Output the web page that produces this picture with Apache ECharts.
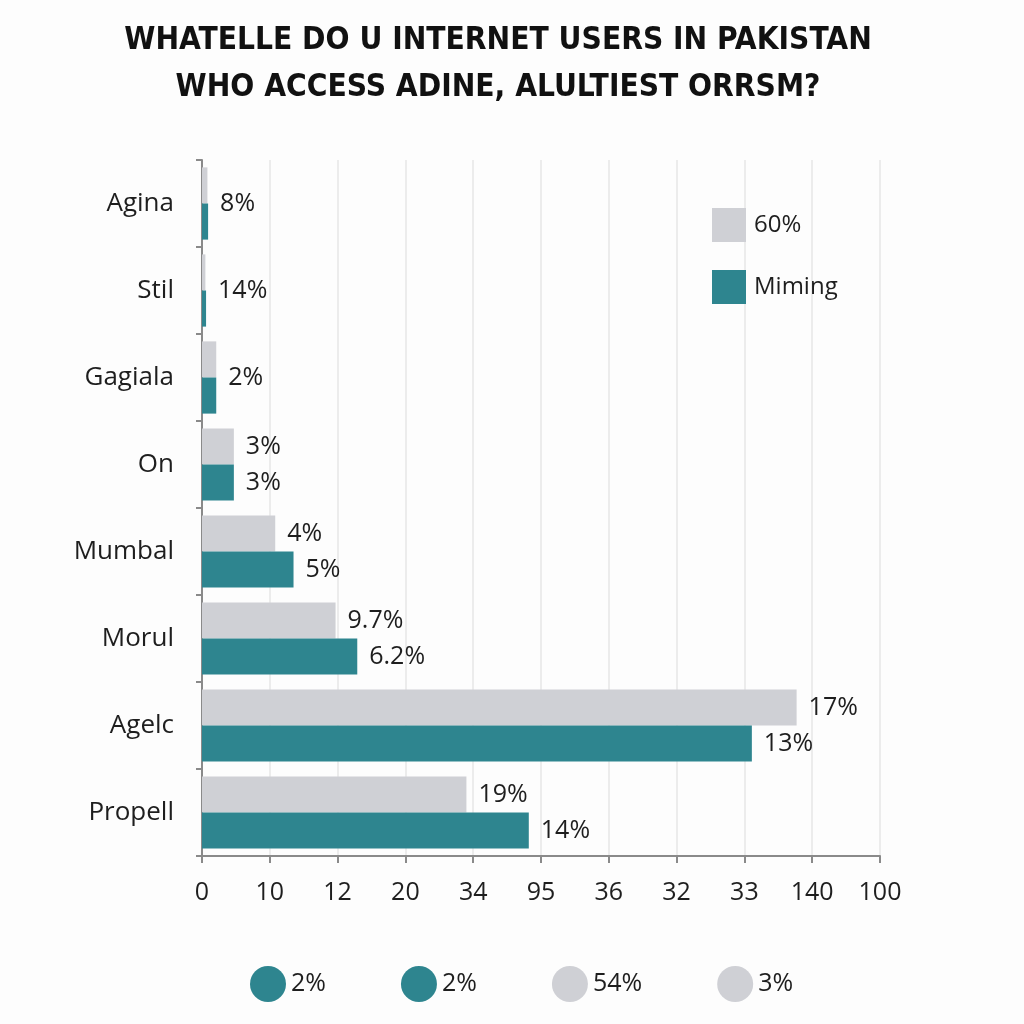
<!DOCTYPE html>
<html>
<head>
<meta charset="utf-8">
<script src="https://cdn.jsdelivr.net/npm/echarts@6/dist/echarts.min.js"></script>
<style>
html,body{margin:0;padding:0;background:#fdfdfd;}
#chart{width:1024px;height:1024px;}
</style>
</head>
<body>
<div id="chart"></div>
<script>
const titleLines = ['WHATELLE DO U INTERNET USERS IN PAKISTAN', 'WHO ACCESS ADINE, ALULTIEST ORRSM?'];
const categories = ['Agina', 'Stil', 'Gagiala', 'On', 'Mumbal', 'Morul', 'Agelc', 'Propell'];
const grayValues = [0.8, 0.5, 2.1, 4.7, 10.8, 19.7, 87.7, 39.0];
const tealValues = [0.9, 0.6, 2.1, 4.7, 13.5, 22.9, 81.1, 48.2];
const grayLabels = ['', '', '', '3%', '4%', '9.7%', '17%', '19%'];
const tealLabels = ['8%', '14%', '2%', '3%', '5%', '6.2%', '13%', '14%'];
const xTickLabels = ['0', '10', '12', '20', '34', '95', '36', '32', '33', '140', '100'];
const seriesNames = ['60%', 'Miming'];
const bottomLegendLabels = ['2%', '2%', '54%', '3%'];

const GRAY = '#cfd0d5';
const TEAL = '#2e858f';
const TXT = '#1e1e1e';
const FONT = '"Open Sans", "Noto Sans", sans-serif';

const chart = echarts.init(document.getElementById('chart'));
const bottomKeys = ['b0', 'b1', 'b2', 'b3'];
const bottomColors = [TEAL, TEAL, GRAY, GRAY];

const option = {
  backgroundColor: '#fdfdfd',
  animation: false,
  title: {
    text: titleLines.join('\n'),
    left: 493,
    textAlign: 'center',
    top: 12,
    textStyle: {
      fontFamily: '"DejaVu Sans Condensed", "DejaVu Sans", sans-serif',
      fontWeight: 'bold',
      fontSize: 31.4,
      lineHeight: 47,
      color: '#111'
    }
  },
  legend: [
    {
      data: seriesNames,
      orient: 'vertical',
      left: 707,
      top: 203,
      itemWidth: 34,
      itemHeight: 34,
      itemGap: 28,
      icon: 'rect',
      textStyle: { fontFamily: FONT, fontSize: 24, color: TXT, padding: [0, 0, 0, 3] }
    },
    {
      data: bottomKeys.map(k => ({ name: k, icon: 'circle' })),
      orient: 'horizontal',
      left: 245,
      top: 961,
      itemWidth: 36,
      itemHeight: 36,
      itemGap: 75,
      formatter: name => bottomLegendLabels[bottomKeys.indexOf(name)],
      textStyle: { fontFamily: FONT, fontSize: 25, color: TXT }
    }
  ],
  grid: { left: 202, right: 144, top: 160, bottom: 168, containLabel: false },
  xAxis: {
    type: 'value',
    min: 0,
    max: 100,
    interval: 10,
    axisLine: { show: true, lineStyle: { color: '#8a8a8a', width: 2 } },
    axisTick: { show: true, length: 7, lineStyle: { color: '#8a8a8a', width: 2 } },
    splitLine: { show: true, lineStyle: { color: '#e6e6e6', width: 1.5 } },
    axisLabel: {
      formatter: v => xTickLabels[Math.round(v / 10)],
      fontFamily: FONT,
      fontSize: 25,
      color: TXT,
      margin: 24
    }
  },
  yAxis: {
    type: 'category',
    data: categories,
    inverse: true,
    axisLine: { show: true, lineStyle: { color: '#8a8a8a', width: 2 } },
    axisTick: { show: true, length: 6, lineStyle: { color: '#8a8a8a', width: 2 } },
    axisLabel: {
      fontFamily: FONT,
      fontSize: 26,
      color: TXT,
      margin: 28
    }
  },
  series: [
    {
      name: seriesNames[0],
      type: 'bar',
      data: grayValues,
      barGap: '0%',
      barCategoryGap: '17%',
      itemStyle: { color: GRAY },
      label: {
        show: true,
        position: 'right',
        distance: 12,
        formatter: p => grayLabels[p.dataIndex],
        fontFamily: FONT,
        fontSize: 25,
        color: TXT
      }
    },
    {
      name: seriesNames[1],
      type: 'bar',
      data: tealValues,
      barGap: '0%',
      barCategoryGap: '17%',
      itemStyle: { color: TEAL },
      label: {
        show: true,
        position: 'right',
        distance: 12,
        formatter: p => tealLabels[p.dataIndex],
        fontFamily: FONT,
        fontSize: 25,
        color: TXT
      },
      labelLayout: p => (grayLabels[p.dataIndex] === '' ? { dy: -18 } : {})
    }
  ].concat(bottomKeys.map((k, i) => ({
    name: k,
    type: 'line',
    data: [],
    itemStyle: { color: bottomColors[i] },
    lineStyle: { color: bottomColors[i] }
  })))
};
chart.setOption(option);
</script>
</body>
</html>
